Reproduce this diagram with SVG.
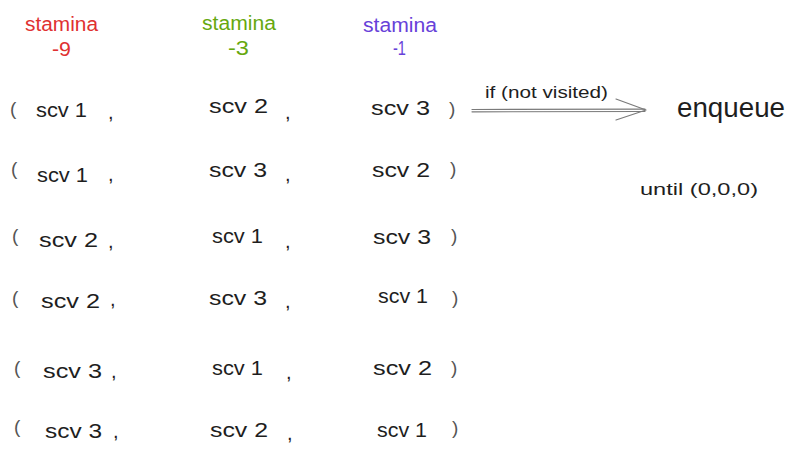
<svg xmlns="http://www.w3.org/2000/svg" width="796" height="456" viewBox="0 0 796 456">
<style>
text{font-family:"Liberation Sans","DejaVu Sans",sans-serif;}
.t{font-size:20px;fill:#1e1e1e;}
.p{font-size:19px;fill:#555555;}
.c{font-size:20px;fill:#1e1e1e;}
.h{font-size:20px;}
.red{fill:#e03131;}
.grn{fill:#66a80f;}
.vio{fill:#6741d9;}
.lbl{font-size:16px;fill:#1e1e1e;}
.arr{stroke:#7a7a7a;stroke-width:1.2;fill:none;stroke-linecap:round;stroke-linejoin:round;}
</style>
<rect width="796" height="456" fill="#ffffff"/>
<g id="header-1"><text class="h red" x="25" y="31" textLength="73" lengthAdjust="spacingAndGlyphs">stamina</text><text class="h red" x="52" y="56" textLength="19" lengthAdjust="spacingAndGlyphs">-9</text></g>
<g id="header-2"><text class="h grn" x="202" y="30" textLength="74" lengthAdjust="spacingAndGlyphs">stamina</text><text class="h grn" x="228" y="55" textLength="21" lengthAdjust="spacingAndGlyphs">-3</text></g>
<g id="header-3"><text class="h vio" x="363" y="32" textLength="74" lengthAdjust="spacingAndGlyphs">stamina</text><text class="h vio" x="393" y="55" textLength="13" lengthAdjust="spacingAndGlyphs">-1</text></g>

<g id="row-1">
<text class="p" x="10" y="115">(</text>
<text class="t" x="36" y="117" textLength="51" lengthAdjust="spacingAndGlyphs">scv 1</text>
<text class="c" x="108" y="119">,</text>
<text class="t" x="209" y="113" textLength="59" lengthAdjust="spacingAndGlyphs">scv 2</text>
<text class="c" x="285" y="119">,</text>
<text class="t" x="371" y="115" textLength="59" lengthAdjust="spacingAndGlyphs">scv 3</text>
<text class="p" x="449" y="115">)</text>
</g>
<g id="row-2">
<text class="p" x="11" y="175">(</text>
<text class="t" x="37" y="182" textLength="51" lengthAdjust="spacingAndGlyphs">scv 1</text>
<text class="c" x="108" y="181">,</text>
<text class="t" x="209" y="177" textLength="58" lengthAdjust="spacingAndGlyphs">scv 3</text>
<text class="c" x="285" y="181">,</text>
<text class="t" x="372" y="177" textLength="58" lengthAdjust="spacingAndGlyphs">scv 2</text>
<text class="p" x="450" y="175">)</text>
</g>
<g id="row-3">
<text class="p" x="12" y="242">(</text>
<text class="t" x="39" y="247" textLength="59" lengthAdjust="spacingAndGlyphs">scv 2</text>
<text class="c" x="108" y="248">,</text>
<text class="t" x="212" y="243" textLength="51" lengthAdjust="spacingAndGlyphs">scv 1</text>
<text class="c" x="285" y="248">,</text>
<text class="t" x="373" y="244" textLength="58" lengthAdjust="spacingAndGlyphs">scv 3</text>
<text class="p" x="451" y="242">)</text>
</g>
<g id="row-4">
<text class="p" x="12" y="304">(</text>
<text class="t" x="41" y="308" textLength="59" lengthAdjust="spacingAndGlyphs">scv 2</text>
<text class="c" x="110" y="306">,</text>
<text class="t" x="209" y="305" textLength="58" lengthAdjust="spacingAndGlyphs">scv 3</text>
<text class="c" x="285" y="308">,</text>
<text class="t" x="378" y="303" textLength="50" lengthAdjust="spacingAndGlyphs">scv 1</text>
<text class="p" x="452" y="304">)</text>
</g>
<g id="row-5">
<text class="p" x="14" y="374">(</text>
<text class="t" x="43" y="378" textLength="59" lengthAdjust="spacingAndGlyphs">scv 3</text>
<text class="c" x="111" y="378">,</text>
<text class="t" x="212" y="375" textLength="51" lengthAdjust="spacingAndGlyphs">scv 1</text>
<text class="c" x="286" y="379">,</text>
<text class="t" x="373" y="375" textLength="59" lengthAdjust="spacingAndGlyphs">scv 2</text>
<text class="p" x="451" y="374">)</text>
</g>
<g id="row-6">
<text class="p" x="14" y="433">(</text>
<text class="t" x="45" y="438" textLength="57" lengthAdjust="spacingAndGlyphs">scv 3</text>
<text class="c" x="113" y="438">,</text>
<text class="t" x="210" y="437" textLength="58" lengthAdjust="spacingAndGlyphs">scv 2</text>
<text class="c" x="287" y="440">,</text>
<text class="t" x="377" y="437" textLength="50" lengthAdjust="spacingAndGlyphs">scv 1</text>
<text class="p" x="452" y="434">)</text>
</g>

<g id="enqueue"><text x="677" y="117" style="font-size:27px;fill:#1e1e1e" textLength="108" lengthAdjust="spacingAndGlyphs">enqueue</text></g>
<g id="until"><text x="640" y="195" style="font-size:17px;fill:#1e1e1e" textLength="118" lengthAdjust="spacingAndGlyphs">until (0,0,0)</text></g>

<g id="connectors">
<path class="arr" d="M472 109.5 L645 109.2 M472 111.8 L645 111.5"/>
<path class="arr" d="M616 99 L646 110 L616 120"/>
<text class="lbl" x="485" y="98" textLength="123" lengthAdjust="spacingAndGlyphs">if (not visited)</text>
</g>
</svg>
